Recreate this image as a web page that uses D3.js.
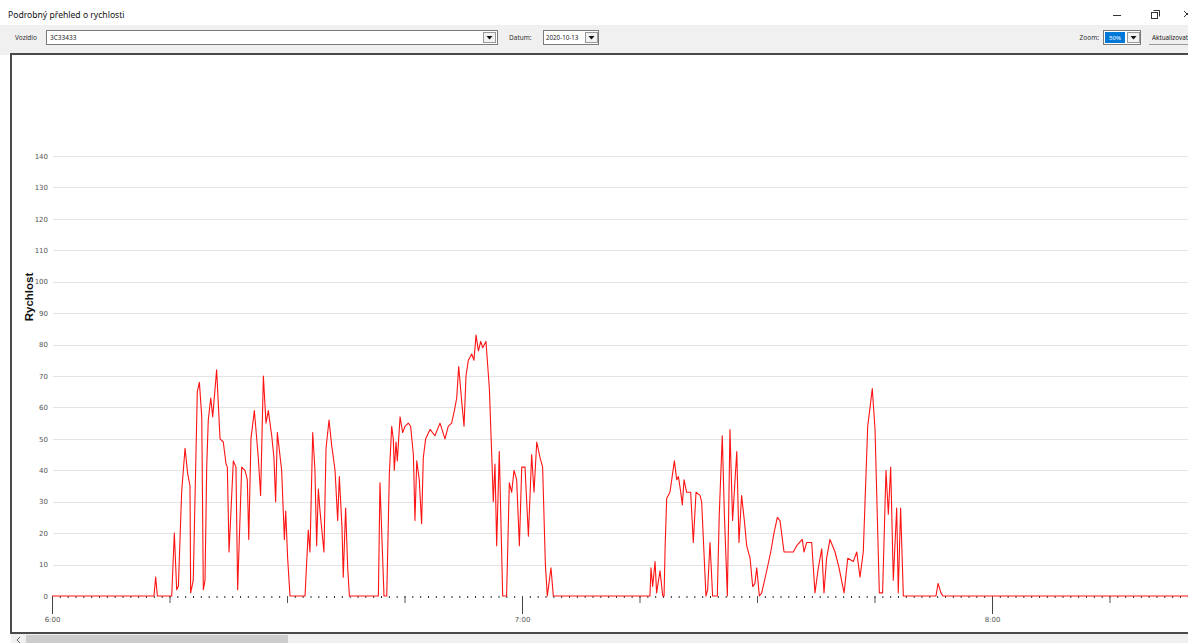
<!DOCTYPE html>
<html>
<head>
<meta charset="utf-8">
<script src="https://cdn.jsdelivr.net/npm/d3@7/dist/d3.min.js"></script>
<style>
  html, body { margin: 0; padding: 0; background: #ffffff; overflow: hidden; }
  svg { display: block; }
  .ui { font-family: "Noto Sans", "Open Sans", sans-serif; }
  .axis text { font-family: "DejaVu Sans", Verdana, sans-serif; font-size: 7px; fill: #555; }
</style>
</head>
<body>
<svg id="chart" width="1188" height="643"></svg>
<script>
// Vehicle speed log, 2020-10-13 (time of day, speed in km/h)
const times = [
  "6:00:00","6:13:01","6:13:14","6:13:27","6:15:17","6:15:37","6:15:55","6:16:08","6:16:33","6:16:59",
  "6:17:19","6:17:37","6:17:42","6:18:02","6:18:33","6:18:49","6:19:07","6:19:19","6:19:32","6:19:45",
  "6:19:57","6:20:16","6:20:31","6:20:41","6:21:01","6:21:27","6:21:52","6:22:13","6:22:23","6:22:36",
  "6:23:09","6:23:29","6:23:42","6:24:13","6:24:38","6:24:56","6:25:07","6:25:24","6:25:50","6:26:20",
  "6:26:38","6:26:59","6:27:19","6:27:37","6:28:03","6:28:20","6:28:33","6:28:46","6:29:19","6:29:40",
  "6:29:50","6:30:05","6:30:23","6:32:18","6:32:43","6:32:56","6:33:17","6:33:34","6:33:47","6:34:00",
  "6:34:13","6:34:43","6:34:59","6:35:22","6:35:42","6:36:08","6:36:28","6:36:41","6:37:01","6:37:11",
  "6:37:29","6:37:45","6:37:58",
  "6:41:40","6:41:52","6:42:23","6:42:44","6:43:04","6:43:22","6:43:34","6:43:42","6:43:55","6:44:05",
  "6:44:26","6:44:46","6:45:04","6:45:29","6:45:47","6:46:08","6:46:20","6:46:34","6:46:53","6:47:11",
  "6:47:24","6:47:42","6:48:16","6:48:53","6:49:32","6:50:10","6:50:35","6:51:01","6:51:22","6:51:40",
  "6:51:55","6:52:18","6:52:36","6:52:51","6:53:09","6:53:35","6:53:52","6:54:08","6:54:26","6:54:44",
  "6:54:59","6:55:24","6:55:50","6:56:08","6:56:20","6:56:33","6:56:46","6:57:06","6:57:32","6:58:02",
  "6:58:23","6:58:41","6:58:59","6:59:19","6:59:40","6:59:58","7:00:23","7:00:49","7:01:14","7:01:32",
  "7:01:53","7:02:18","7:02:38","7:02:59","7:03:14","7:03:42","7:04:00",
  "7:16:20","7:16:28","7:16:41","7:16:59","7:17:11","7:17:37","7:17:58","7:18:08","7:18:16","7:18:28",
  "7:18:53","7:19:07","7:19:27","7:19:45","7:19:58","7:20:16","7:20:28","7:20:41","7:21:01","7:21:32",
  "7:21:52","7:22:13","7:22:43","7:22:56","7:23:29","7:23:42","7:24:00","7:24:20","7:24:56","7:25:11",
  "7:25:34","7:25:50","7:26:13","7:26:33","7:26:53","7:27:25","7:27:42","7:28:02","7:28:23","7:28:41",
  "7:29:07","7:29:27","7:29:44","7:29:58","7:30:18","7:30:36","7:31:09","7:31:45","7:32:10","7:32:36",
  "7:32:56","7:33:27","7:33:52","7:34:38","7:35:04","7:35:47","7:36:00","7:36:20","7:36:59","7:37:24",
  "7:37:50","7:38:16","7:38:33","7:38:53","7:39:19","7:39:58","7:40:28","7:41:07","7:41:35","7:42:18",
  "7:42:44","7:43:09","7:43:34","7:44:08","7:44:26","7:44:43","7:45:04","7:45:37","7:46:02","7:46:28",
  "7:46:46","7:47:04","7:47:24","7:47:50","7:48:02","7:48:20","7:48:41",
  "7:52:51","7:53:07","7:53:29","7:53:44","8:30:00"
];
const speeds = [
  0,0,6,0,0,20,2,3,33,47,
  39,35,1,5,65,68,57,2,5,41,
  56,63,57,62,72,50,49,42,41,14,
  43,41,2,41,40,37,18,50,59,44,
  32,70,55,59,51,44,30,52,40,18,
  27,12,0,0,21,14,52,40,16,34,
  27,14,47,56,48,40,24,38,22,6,
  28,9,0,
  0,36,0,0,39,54,50,40,49,43,
  57,52,54,55,54,45,24,43,37,23,
  44,50,53,51,55,50,54,55,59,63,
  73,62,54,70,75,77,75,83,78,81,
  79,81,66,45,30,42,16,46,0,0,
  36,33,40,37,16,41,41,19,45,33,
  49,44,41,10,0,9,0,
  0,9,3,11,1,8,0,0,15,31,
  33,37,43,37,38,33,29,37,33,33,
  17,33,32,30,0,2,17,0,0,26,
  51,26,0,53,24,46,17,32,24,16,
  12,3,4,9,0,1,7,14,20,25,
  24,14,14,14,16,18,14,17,17,1,
  9,15,1,12,18,14,9,1,12,11,
  14,6,14,54,60,66,53,1,1,40,
  26,41,5,28,1,28,0,
  0,4,1,0,0
];
const yTicks = [0,10,20,30,40,50,60,70,80,90,100,110,120,130,140];
const hourTicks = ["6:00","7:00","8:00"];
const viewRange = ["6:00:00","8:30:00"];

const parse = d3.timeParse("%Y-%m-%d %H:%M:%S");
const day = "2020-10-13 ";
const data = times.map((t, i) => ({ t: parse(day + t), v: speeds[i] }));

const svg = d3.select("#chart");
const W = 1188, H = 643;

// ---------- window chrome ----------
const ui = svg.append("g").attr("class", "ui");
ui.append("text").attr("x", 8).attr("y", 18).attr("font-size", 8.6).attr("fill", "#111")
  .text("Podrobný přehled o rychlosti");
// minimize / restore / close
ui.append("line").attr("x1", 1113).attr("x2", 1121).attr("y1", 15.5).attr("y2", 15.5).attr("stroke", "#333");
ui.append("rect").attr("x", 1151.5).attr("y", 12.5).attr("width", 6).attr("height", 6).attr("fill", "none").attr("stroke", "#333");
ui.append("path").attr("d", "M1153.5,10.5 H1159.5 V16.5").attr("fill", "none").attr("stroke", "#333");
ui.append("path").attr("d", "M1184,11 L1190,17 M1190,11 L1184,17").attr("stroke", "#333");

// toolbar
ui.append("rect").attr("x", 0).attr("y", 25).attr("width", W).attr("height", 30).attr("fill", "#f0f0f0");
ui.append("text").attr("x", 15).attr("y", 39.5).attr("font-size", 6.5).attr("fill", "#333").text("Vozidlo");
ui.append("rect").attr("x", 46.5).attr("y", 30.5).attr("width", 451).attr("height", 14).attr("fill", "#fff").attr("stroke", "#7a7a7a");
ui.append("text").attr("x", 50).attr("y", 40).attr("font-size", 6.5).attr("fill", "#222").text("3C33433");

function dropArrow(x, y) {
  ui.append("rect").attr("x", x + 0.5).attr("y", y + 0.5).attr("width", 12).attr("height", 10)
    .attr("fill", "#f3f3f3").attr("stroke", "#999");
  ui.append("path").attr("d", `M${x + 3.5},${y + 4} L${x + 9.5},${y + 4} L${x + 6.5},${y + 7.5} Z`).attr("fill", "#111");
}
dropArrow(483, 32);

ui.append("text").attr("x", 509).attr("y", 39.5).attr("font-size", 6.5).attr("fill", "#333").text("Datum:");
ui.append("rect").attr("x", 543.5).attr("y", 30.5).attr("width", 55).attr("height", 14).attr("fill", "#fff").attr("stroke", "#7a7a7a");
ui.append("text").attr("x", 546).attr("y", 40).attr("font-size", 6.2).attr("fill", "#222").text("2020-10-13");
dropArrow(585, 32);

ui.append("text").attr("x", 1099).attr("y", 39.5).attr("text-anchor", "end").attr("font-size", 6.5).attr("fill", "#333").text("Zoom:");
ui.append("rect").attr("x", 1103.5).attr("y", 30.5).attr("width", 37).attr("height", 14).attr("fill", "#fff").attr("stroke", "#7a7a7a");
ui.append("rect").attr("x", 1105).attr("y", 32).attr("width", 20).attr("height", 11).attr("fill", "#0078d7");
ui.append("text").attr("x", 1115).attr("y", 40).attr("text-anchor", "middle").attr("font-size", 6).attr("fill", "#fff").text("50%");
dropArrow(1127, 32);

ui.append("text").attr("x", 1152).attr("y", 39.5).attr("font-size", 6.3).attr("fill", "#222").text("Aktualizovat");
ui.append("line").attr("x1", 1149).attr("x2", 1188).attr("y1", 44.5).attr("y2", 44.5).attr("stroke", "#9a9a9a");

// ---------- chart panel ----------
const panelTop = 54, panelBottom = 633, panelLeft = 11;
svg.append("rect").attr("x", panelLeft).attr("y", panelTop).attr("width", W + 20).attr("height", panelBottom - panelTop)
  .attr("fill", "#ffffff").attr("stroke", "#4a4a4a").attr("stroke-width", 2);

// horizontal scrollbar under the panel
svg.append("rect").attr("x", panelLeft).attr("y", panelBottom + 1).attr("width", W).attr("height", H - panelBottom)
  .attr("fill", "#f0f0f0");
svg.append("rect").attr("x", 26).attr("y", panelBottom + 2).attr("width", 262).attr("height", H - panelBottom)
  .attr("fill", "#cdcdcd");
svg.append("path").attr("d", "M20,637 L17,640 L20,643").attr("fill", "none").attr("stroke", "#606060");

svg.append("clipPath").attr("id", "plotclip").append("rect")
  .attr("x", panelLeft + 1).attr("y", panelTop + 1).attr("width", W).attr("height", panelBottom - panelTop - 2);

const g = svg.append("g").attr("clip-path", "url(#plotclip)");

const x = d3.scaleTime()
  .domain(viewRange.map(t => parse(day + t)))
  .range([52, 52 + 2.5 * 470]);
const y = d3.scaleLinear().domain([0, 140]).range([596, 156]);

// gridlines
g.append("g").selectAll("line").data(yTicks.filter(d => d > 0)).join("line")
  .attr("x1", 53).attr("x2", W + 10)
  .attr("y1", d => Math.round(y(d)) + 0.5).attr("y2", d => Math.round(y(d)) + 0.5)
  .attr("stroke", "#e4e4e4").attr("stroke-width", 1);

// y axis labels
const yAxis = g.append("g").attr("class", "axis").attr("transform", "translate(52,0)")
  .call(d3.axisLeft(y).tickValues(yTicks).tickSize(0).tickPadding(4));
yAxis.select(".domain").remove();

// x axis: minute, quarter-hour and hour ticks
const minuteAxis = g.append("g").attr("class", "axis").attr("transform", "translate(0,596)")
  .call(d3.axisBottom(x).ticks(d3.timeMinute.every(1)).tickSize(2).tickFormat(""));
minuteAxis.select(".domain").remove();
minuteAxis.selectAll("line").attr("stroke", "#333").attr("stroke-width", 1);

const quarterAxis = g.append("g").attr("class", "axis").attr("transform", "translate(0,596)")
  .call(d3.axisBottom(x).ticks(d3.timeMinute.every(15)).tickSize(7).tickFormat(""));
quarterAxis.select(".domain").remove();
quarterAxis.selectAll("line").attr("stroke", "#555");

const hourAxis = g.append("g").attr("class", "axis").attr("transform", "translate(0,596)")
  .call(d3.axisBottom(x)
    .tickValues(hourTicks.map(h => parse(day + h + ":00")))
    .tickSize(18).tickPadding(3)
    .tickFormat(d3.timeFormat("%-H:%M")));
hourAxis.select(".domain").remove();
hourAxis.selectAll("line").attr("stroke", "#444");

// speed trace
const line = d3.line().x(d => x(d.t)).y(d => y(d.v));
g.append("path").datum(data)
  .attr("d", line)
  .attr("fill", "none")
  .attr("stroke", "#ff1414")
  .attr("stroke-width", 1.1)
  .attr("stroke-linejoin", "round");

// y axis title
svg.append("text")
  .attr("transform", "translate(33,297) rotate(-90)")
  .attr("text-anchor", "middle")
  .attr("font-family", "'Liberation Sans', Arial, sans-serif")
  .attr("font-weight", "bold")
  .attr("font-size", 11.5)
  .attr("fill", "#111")
  .text("Rychlost");
</script>
</body>
</html>
